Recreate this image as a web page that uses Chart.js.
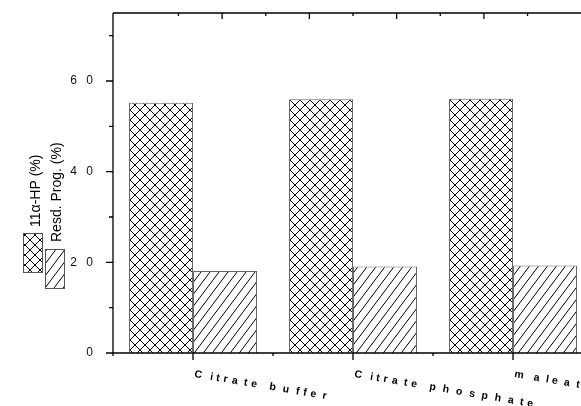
<!DOCTYPE html>
<html>
<head>
<meta charset="utf-8">
<script src="https://cdn.jsdelivr.net/npm/chart.js@4"></script>
<style>
  html, body { margin: 0; padding: 0; background: #fff; overflow: hidden; }
  canvas { display: block; }
</style>
</head>
<body>
<canvas id="c" width="620" height="406"></canvas>
<script>
// Buffer systems compared, and the two measured percentages for each
const categories = ['Citrate buffer', 'Citrate phosphate', 'maleate'];
const hpValues = [55.2, 56.0, 56.1];     // 11α-HP (%)
const resdValues = [18.1, 19.1, 19.3];   // residual progesterone (%)
const seriesNames = ['11α-HP (%)', 'Resd. Prog. (%)'];
const yTickValues = [0, 20, 40, 60];
const yMinorValues = [10, 30, 50, 70];
const yMax = 75;
const topTickValues = [1, 2, 3, 4, 5, 6, 7, 8, 9];

// Fill patterns: cross-hatch and single diagonal hatch
function crossPattern() {
  const s = 10;
  const c = document.createElement('canvas');
  c.width = s; c.height = s;
  const g = c.getContext('2d');
  g.fillStyle = '#fff'; g.fillRect(0, 0, s, s);
  g.strokeStyle = '#000'; g.lineWidth = 1;
  g.beginPath();
  g.moveTo(0, 0); g.lineTo(s, s);
  g.moveTo(0, s); g.lineTo(s, 0);
  g.stroke();
  return g.createPattern(c, 'repeat');
}
function hatchPattern() {
  const w = 9, h = 12;
  const c = document.createElement('canvas');
  c.width = w; c.height = h;
  const g = c.getContext('2d');
  g.fillStyle = '#fff'; g.fillRect(0, 0, w, h);
  g.strokeStyle = '#000'; g.lineWidth = 1;
  g.beginPath();
  g.moveTo(-w, h); g.lineTo(0, 0);
  g.moveTo(0, h); g.lineTo(w, 0);
  g.moveTo(w, h); g.lineTo(2 * w, 0);
  g.stroke();
  return g.createPattern(c, 'repeat');
}
const crossFill = crossPattern();
const hatchFill = hatchPattern();

function spaced(n) { return String(n).split('').join(' '); }

// Axes frame, ticks, labels and the rotated legend
const framePlugin = {
  id: 'frame',
  afterDraw(chart) {
    const ctx = chart.ctx;
    const a = chart.chartArea;
    const x = chart.scales.x, y = chart.scales.y, x2 = chart.scales.x2;
    const L = a.left, R = a.right, T = a.top, B = a.bottom;
    ctx.save();
    ctx.strokeStyle = '#000';
    ctx.lineWidth = 1.3;
    ctx.beginPath();
    ctx.moveTo(L, T); ctx.lineTo(L, B);
    ctx.moveTo(L, T); ctx.lineTo(R, T);
    ctx.moveTo(L - 7, B); ctx.lineTo(R, B);
    // y ticks (outward)
    yTickValues.forEach(v => { const p = y.getPixelForValue(v); ctx.moveTo(L - 7, p); ctx.lineTo(L, p); });
    yMinorValues.forEach(v => { const p = y.getPixelForValue(v); ctx.moveTo(L - 4, p); ctx.lineTo(L, p); });
    // bottom ticks: major at category centres, minor at boundaries
    const cw = (R - L) / categories.length;
    categories.forEach((c, i) => {
      const p = x.getPixelForValue(i);
      ctx.moveTo(p, B); ctx.lineTo(p, B + 7);
      ctx.moveTo(p - cw / 2, B); ctx.lineTo(p - cw / 2, B + 3);
    });
    // top ticks (inward)
    topTickValues.forEach(v => {
      const p = x2.getPixelForValue(v);
      ctx.moveTo(p, T); ctx.lineTo(p, T + (v % 2 === 0 ? 6 : 3));
    });
    ctx.stroke();

    // y tick labels
    ctx.fillStyle = '#111';
    ctx.font = '12px "Liberation Sans", Arial, sans-serif';
    ctx.letterSpacing = '3px';
    ctx.textAlign = 'right';
    ctx.textBaseline = 'middle';
    yTickValues.forEach(v => ctx.fillText(spaced(v), L - 17, y.getPixelForValue(v)));
    ctx.letterSpacing = '0px';

    // category labels: widely spaced, sloping down to the right
    ctx.fillStyle = '#000';
    ctx.font = 'bold 10.5px "Liberation Sans", Arial, sans-serif';
    ctx.textAlign = 'left';
    ctx.textBaseline = 'alphabetic';
    const k = 2.1;
    categories.forEach((c, i) => {
      ctx.save();
      ctx.translate(x.getPixelForValue(i) + 1, B + 24);
      ctx.rotate(9.5 * Math.PI / 180);
      let px = 0;
      for (const ch of c) {
        ctx.fillText(ch, px, 0);
        px += ctx.measureText(ch).width * k;
      }
      ctx.restore();
    });

    // legend, drawn vertically at the left
    const boxes = [
      { x: 23.5, y: 233.5, fill: crossFill, tx: 39.5, ty: 227 },
      { x: 45.5, y: 249.5, fill: hatchFill, tx: 61, ty: 242 }
    ];
    ctx.font = '14px "Liberation Sans", Arial, sans-serif';
    boxes.forEach((b, i) => {
      ctx.fillStyle = b.fill;
      ctx.fillRect(b.x, b.y, 19, 39);
      ctx.strokeStyle = '#555';
      ctx.lineWidth = 1;
      ctx.strokeRect(b.x, b.y, 19, 39);
      ctx.save();
      ctx.translate(b.tx, b.ty);
      ctx.rotate(-Math.PI / 2);
      ctx.fillStyle = '#000';
      ctx.textAlign = 'left';
      ctx.fillText(seriesNames[i], 0, 0);
      ctx.restore();
    });
    ctx.restore();
  }
};

new Chart(document.getElementById('c'), {
  type: 'bar',
  data: {
    labels: categories,
    datasets: [
      { label: seriesNames[0], data: hpValues, backgroundColor: crossFill, borderColor: '#666', borderWidth: 1 },
      { label: seriesNames[1], data: resdValues, backgroundColor: hatchFill, borderColor: '#666', borderWidth: 1 }
    ]
  },
  options: {
    responsive: false,
    animation: false,
    events: [],
    layout: { padding: { left: 0, right: 27, top: 0, bottom: 0 } },
    datasets: { bar: { categoryPercentage: 0.8, barPercentage: 1.0 } },
    plugins: { legend: { display: false }, tooltip: { enabled: false } },
    scales: {
      x: {
        type: 'category',
        position: 'bottom',
        grid: { display: false },
        border: { display: false },
        ticks: { display: false },
        afterFit(s) { s.height = 53; }
      },
      x2: {
        type: 'linear',
        position: 'top',
        min: 0, max: 10,
        grid: { display: false },
        border: { display: false },
        ticks: { display: false },
        afterFit(s) { s.height = 13; }
      },
      y: {
        type: 'linear',
        min: 0, max: yMax,
        grid: { display: false },
        border: { display: false },
        ticks: { display: false, stepSize: 10 },
        afterFit(s) { s.width = 113; }
      }
    }
  },
  plugins: [framePlugin]
});
</script>
</body>
</html>
